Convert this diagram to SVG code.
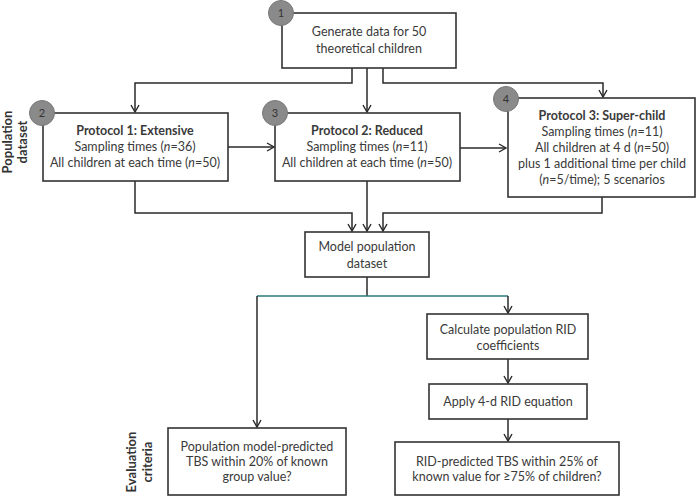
<svg xmlns="http://www.w3.org/2000/svg" width="698" height="497" viewBox="0 0 698 497">
<style>
.box{fill:#fff;stroke:#333;stroke-width:1.6}
.t{font-family:Lato,"Liberation Sans",sans-serif;font-size:12.5px;fill:#3a3a3a;text-anchor:middle}
.b{font-weight:bold}
.lbl{font-family:Lato,"Liberation Sans",sans-serif;font-size:13px;fill:#333;text-anchor:middle;font-weight:bold}
.num{fill:#8a8a8a;stroke:#777;stroke-width:1}
.nt{font-family:Lato,"Liberation Sans",sans-serif;font-size:11px;fill:#333;text-anchor:middle}
.c{fill:none;stroke:#2a2a2a;stroke-width:1.5}
.teal{fill:none;stroke:#2a7a78;stroke-width:1.6}
</style>
<defs>
<marker id="ah" markerWidth="10" markerHeight="10" refX="8" refY="5" orient="auto" markerUnits="userSpaceOnUse">
<path d="M1,1 L8,5 L1,9" fill="none" stroke="#2a2a2a" stroke-width="1.4"/>
</marker>
</defs>
<rect width="698" height="497" fill="#fff"/>

<g id="connectors">
<path class="c" d="M352,68 V83 H135 V112" marker-end="url(#ah)"/>
<path class="c" d="M367,68 V112" marker-end="url(#ah)"/>
<path class="c" d="M383,68 V83 H603 V97" marker-end="url(#ah)"/>
<path class="c" d="M228,147 H274" marker-end="url(#ah)"/>
<path class="c" d="M460,148 H506" marker-end="url(#ah)"/>
<path class="c" d="M135,181 V213 H352 V231" marker-end="url(#ah)"/>
<path class="c" d="M367,181 V231" marker-end="url(#ah)"/>
<path class="c" d="M602,197 V213 H383 V231" marker-end="url(#ah)"/>
<path class="c" d="M367,277 V296"/>
<path class="teal" d="M257,296 H508"/>
<path class="c" d="M257,296 V427" marker-end="url(#ah)"/>
<path class="c" d="M508,296 V313" marker-end="url(#ah)"/>
<path class="c" d="M508,359 V383" marker-end="url(#ah)"/>
<path class="c" d="M508,419 V441" marker-end="url(#ah)"/>
</g>

<g id="side-labels">
<text class="lbl" transform="translate(12,142) rotate(-90)">Population</text>
<text class="lbl" transform="translate(27,142) rotate(-90)">dataset</text>
<text class="lbl" transform="translate(136,462) rotate(-90)">Evaluation</text>
<text class="lbl" transform="translate(152,462) rotate(-90)">criteria</text>
</g>

<g id="node-generate">
<rect class="box" x="282" y="13" width="174" height="55"/>
<text class="t" x="369" y="36">Generate data for 50</text>
<text class="t" x="369" y="53">theoretical children</text>
<circle class="num" cx="281" cy="13" r="12.5"/>
<text class="nt" x="281" y="17">1</text>
</g>

<g id="node-protocol1">
<rect class="box" x="43" y="113" width="185" height="68"/>
<text class="t b" x="135" y="135">Protocol 1: Extensive</text>
<text class="t" x="135" y="151">Sampling times (<tspan font-style="italic">n</tspan>=36)</text>
<text class="t" x="135" y="167">All children at each time (<tspan font-style="italic">n</tspan>=50)</text>
<circle class="num" cx="42" cy="113" r="12.5"/>
<text class="nt" x="42" y="117">2</text>
</g>

<g id="node-protocol2">
<rect class="box" x="275" y="113" width="185" height="68"/>
<text class="t b" x="367" y="135">Protocol 2: Reduced</text>
<text class="t" x="367" y="151">Sampling times (<tspan font-style="italic">n</tspan>=11)</text>
<text class="t" x="367" y="167">All children at each time (<tspan font-style="italic">n</tspan>=50)</text>
<circle class="num" cx="275" cy="113" r="12.5"/>
<text class="nt" x="275" y="117">3</text>
</g>

<g id="node-protocol3">
<rect class="box" x="508" y="98" width="187" height="99"/>
<text class="t b" x="602" y="120">Protocol 3: Super-child</text>
<text class="t" x="602" y="136">Sampling times (<tspan font-style="italic">n</tspan>=11)</text>
<text class="t" x="602" y="152">All children at 4 d (<tspan font-style="italic">n</tspan>=50)</text>
<text class="t" x="602" y="168">plus 1 additional time per child</text>
<text class="t" x="602" y="184">(<tspan font-style="italic">n</tspan>=5/time); 5 scenarios</text>
<circle class="num" cx="506" cy="99" r="12.5"/>
<text class="nt" x="506" y="103">4</text>
</g>

<g id="node-model">
<rect class="box" x="305" y="232" width="124" height="45"/>
<text class="t" x="367" y="251">Model population</text>
<text class="t" x="367" y="268">dataset</text>
</g>

<g id="node-calc">
<rect class="box" x="427" y="314" width="161" height="45"/>
<text class="t" x="508" y="334">Calculate population RID</text>
<text class="t" x="508" y="350">coefficients</text>
</g>

<g id="node-apply">
<rect class="box" x="429" y="384" width="158" height="35"/>
<text class="t" x="508" y="406">Apply 4-d RID equation</text>
</g>

<g id="node-eval-pop">
<rect class="box" x="168" y="428" width="178" height="67"/>
<text class="t" x="257" y="451">Population model-predicted</text>
<text class="t" x="257" y="466">TBS within 20% of known</text>
<text class="t" x="257" y="481">group value?</text>
</g>

<g id="node-eval-rid">
<rect class="box" x="395" y="442" width="224" height="53"/>
<text class="t" x="507" y="466">RID-predicted TBS within 25% of</text>
<text class="t" x="507" y="481">known value for ≥75% of children?</text>
</g>
</svg>
